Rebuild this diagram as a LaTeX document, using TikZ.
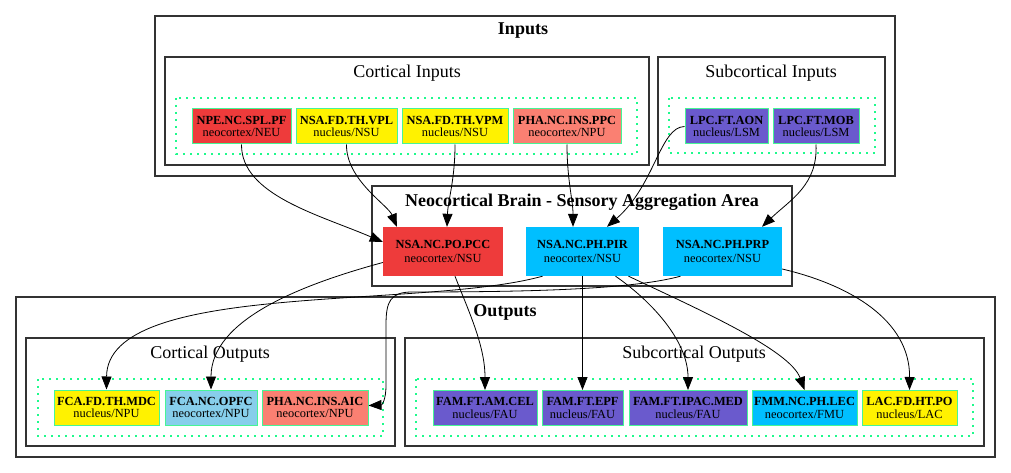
\documentclass[tikz,border=0pt]{standalone}
\usepackage{fontspec}
\setmainfont{Liberation Serif}
\usetikzlibrary{shapes,arrows.meta}
\definecolor{mint}{RGB}{70,245,150}
\definecolor{dotgreen}{RGB}{30,250,140}
\definecolor{cortexred}{RGB}{238,59,59}
\definecolor{salmonpink}{RGB}{250,128,114}
\definecolor{slatepurple}{RGB}{106,90,205}
\definecolor{deepsky}{RGB}{0,191,255}
\definecolor{lightsky}{RGB}{135,206,235}
\tikzstyle{area}=[rectangle, draw=mint, line width=1pt, minimum height=35pt, inner sep=0pt, align=center, font=\fontsize{12.4}{12.5}\selectfont]
\tikzstyle{hub}=[rectangle, minimum height=49pt, inner sep=0pt, align=center, font=\fontsize{12.4}{13.5}\selectfont]
\tikzstyle{cluster}=[draw=black!80, line width=1.2pt]
\tikzstyle{group}=[draw=dotgreen, line width=1.5pt, dash pattern=on 1.6pt off 5.4pt]
\tikzstyle{title}=[anchor=base, inner sep=0pt, font=\fontsize{18}{18}\selectfont]
\tikzstyle{line}=[draw, line width=0.8pt, -{Triangle[length=13pt,width=10pt]}]
\newcommand{\arealabel}[2]{\textbf{#1}\\#2}

\begin{document}
\begin{tikzpicture}[x=1pt, y=-1pt]
  \useasboundingbox (0,0) rectangle (1011,473);
  %\draw [help lines, step=50] (0,0) grid (1011,473);

  % inputs
  \draw[cluster] (155,16) rectangle (895,176);
  \node[title] (tin) at (523,35) {\textbf{Inputs}};
  \draw[cluster] (165,57) rectangle (649,165);
  \node[title] (tcin) at (407,78) {Cortical Inputs};
  \draw[group] (176,98) rectangle (637,154);
  \draw[cluster] (658,57) rectangle (885,165);
  \node[title] (tsin) at (771,78) {Subcortical Inputs};
  \draw[group] (669,98) rectangle (875,153);

  \node[area, fill=cortexred, minimum width=99pt] (npe) at (241.5,126.5) {\arealabel{NPE.NC.SPL.PF}{neocortex/NEU}};
  \node[area, fill=yellow, minimum width=101pt] (vpl) at (346.5,126.5) {\arealabel{NSA.FD.TH.VPL}{nucleus/NSU}};
  \node[area, fill=yellow, minimum width=106pt] (vpm) at (455,126.5) {\arealabel{NSA.FD.TH.VPM}{nucleus/NSU}};
  \node[area, fill=salmonpink, minimum width=108pt] (ppc) at (567,126.5) {\arealabel{PHA.NC.INS.PPC}{neocortex/NPU}};
  \node[area, fill=slatepurple, minimum width=83pt] (aon) at (726.5,126.5) {\arealabel{LPC.FT.AON}{nucleus/LSM}};
  \node[area, fill=slatepurple, minimum width=86pt] (mob) at (816,126.5) {\arealabel{LPC.FT.MOB}{nucleus/LSM}};

  % aggregation area
  \draw[cluster] (372,186) rectangle (792,286);
  \node[title] (tneo) at (582,206) {\textbf{Neocortical Brain - Sensory Aggregation Area}};
  \node[hub, fill=cortexred, minimum width=120pt] (pcc) at (443,251.5) {\arealabel{NSA.NC.PO.PCC}{neocortex/NSU}};
  \node[hub, fill=deepsky, minimum width=113pt] (pir) at (582.5,251.5) {\arealabel{NSA.NC.PH.PIR}{neocortex/NSU}};
  \node[hub, fill=deepsky, minimum width=119pt] (prp) at (722.5,251.5) {\arealabel{NSA.NC.PH.PRP}{neocortex/NSU}};

  % outputs
  \draw[cluster] (16,297) rectangle (995,457);
  \node[title] (tout) at (505,316) {\textbf{Outputs}};
  \draw[cluster] (26,338) rectangle (395,446);
  \node[title] (tcout) at (210,358) {Cortical Outputs};
  \draw[group] (38,379) rectangle (383,436);
  \draw[cluster] (405,338) rectangle (984,446);
  \node[title] (tsout) at (694,358) {Subcortical Outputs};
  \draw[group] (416,379) rectangle (973,436);

  \node[area, fill=yellow, minimum width=105pt] (mdc) at (106.5,407.5) {\arealabel{FCA.FD.TH.MDC}{nucleus/NPU}};
  \node[area, fill=lightsky, minimum width=92pt] (opfc) at (211,407.5) {\arealabel{FCA.NC.OPFC}{neocortex/NPU}};
  \node[area, fill=salmonpink, minimum width=106pt] (aic) at (315,407.5) {\arealabel{PHA.NC.INS.AIC}{neocortex/NPU}};
  \node[area, fill=slatepurple, minimum width=104pt] (cel) at (485,408) {\arealabel{FAM.FT.AM.CEL}{nucleus/FAU}};
  \node[area, fill=slatepurple, minimum width=81pt] (epf) at (582.5,408) {\arealabel{FAM.FT.EPF}{nucleus/FAU}};
  \node[area, fill=slatepurple, minimum width=118pt] (ipac) at (688,408) {\arealabel{FAM.FT.IPAC.MED}{nucleus/FAU}};
  \node[area, fill=deepsky, minimum width=105pt] (fmm) at (804.5,408) {\arealabel{FMM.NC.PH.LEC}{neocortex/FMU}};
  \node[area, fill=yellow, minimum width=95pt] (lac) at (909.5,408) {\arealabel{LAC.FD.HT.PO}{nucleus/LAC}};

  % inputs to the aggregation area
  \draw[line] (npe.south) .. controls (241,195) and (320,215) .. ([yshift=9.5pt]pcc.west);
  \draw[line] (vpl.south) .. controls (346,180) and (388,205) .. ([xshift=14pt]pcc.north west);
  \draw[line] (vpm.south) .. controls (455,180) and (448,200) .. ([xshift=4pt]pcc.north);
  \draw[line] (ppc.south) .. controls (567,180) and (573,200) .. ([xshift=-9.5pt]pir.north);
  \draw[line] (aon.west) .. controls (660,127) and (655,185) .. ([xshift=24.5pt]pir.north);
  \draw[line] (mob.south) .. controls (818,185) and (790,200) .. ([xshift=39.5pt]prp.north);

  % aggregation area to outputs
  \draw[line] ([yshift=-11pt]pcc.west) .. controls (300,285) and (211,320) .. (opfc.north);
  \draw[line] ([xshift=12pt]pcc.south) .. controls (468,310) and (485,345) .. (cel.north);
  \draw[line] ([xshift=-40pt]pir.south) .. controls (420,310) and (107,280) .. (mdc.north);
  \draw[line] ([xshift=-42pt]prp.south) .. controls (630,290) and (520,292) .. (412,292)
    .. controls (390,292) and (386,302) .. (386,325) -- (386,385)
    .. controls (386,400) and (382,405) .. ([yshift=2pt]aic.east);
  \draw[line] (pir.south) -- (epf.north);
  \draw[line] ([xshift=33pt]pir.south) .. controls (650,300) and (688,340) .. (ipac.north);
  \draw[line] ([xshift=46pt]pir.south) .. controls (700,310) and (790,350) .. (fmm.north);
  \draw[line] ([yshift=-17.5pt]prp.east) .. controls (850,285) and (910,320) .. (lac.north);
\end{tikzpicture}
\end{document}
